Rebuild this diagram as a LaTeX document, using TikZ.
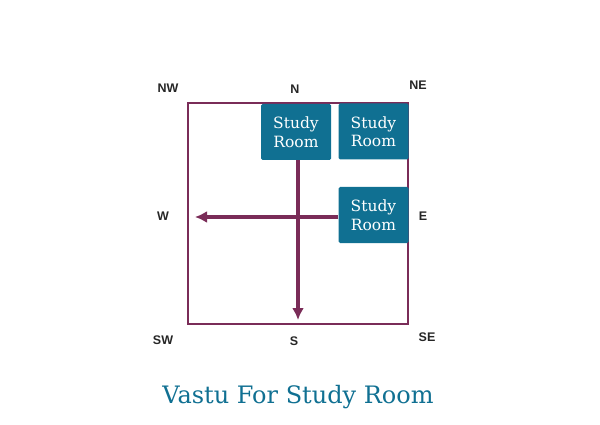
\documentclass[tikz,border=0pt]{standalone}
\usepackage{fontspec}
\setmainfont{DejaVu Serif}
\setsansfont{Liberation Sans}
\usetikzlibrary{arrows.meta}
\definecolor{vastuteal}{RGB}{16, 112, 146}
\definecolor{vastuplum}{RGB}{122, 44, 88}

\tikzset{
  roombox/.style={fill=vastuteal, text=white, minimum width=70pt, minimum height=56pt,
    inner sep=0pt, align=center, font=\fontsize{15.5}{18.5}\selectfont,
    rounded corners=1.5pt},
  dirlabel/.style={font=\sffamily\bfseries\fontsize{12.5}{12.5}\selectfont, text=black!85},
  flow/.style={vastuplum, line width=3.6pt, -{Latex[length=12pt, width=12pt]}}
}

\begin{document}
\begin{tikzpicture}[x=1pt, y=-1pt]
    \useasboundingbox (0,0) rectangle (600,425);

    %% plot outline
    \draw[vastuplum, line width=2.5pt] (188,103) rectangle (408,324);

    %% study room positions
    \node[roombox] (roomN) at (296,132) {Study\\Room};
    \node[roombox] (roomNE) at (373.5,131.5) {Study\\Room};
    \node[roombox] (roomE) at (373.5,215) {Study\\Room};

    %% arrow ends
    \coordinate (tipS) at (298,320);
    \coordinate (tipW) at (195,217);

    \draw[flow] (roomN.south -| tipS) -- (tipS);
    \draw[flow] (roomE.west |- tipW) -- (tipW);

    %% directions
    \node[dirlabel] (nw) at (168,88) {NW};
    \node[dirlabel] (n) at (295,89) {N};
    \node[dirlabel] (ne) at (418,85) {NE};
    \node[dirlabel] (w) at (163,216) {W};
    \node[dirlabel] (e) at (423,216) {E};
    \node[dirlabel] (sw) at (163,340) {SW};
    \node[dirlabel] (s) at (294,341) {S};
    \node[dirlabel] (se) at (427,337) {SE};

    \node[text=vastuteal, font=\fontsize{24}{24}\selectfont] (title) at (298,397)
      {Vastu For Study Room};
\end{tikzpicture}
\end{document}
